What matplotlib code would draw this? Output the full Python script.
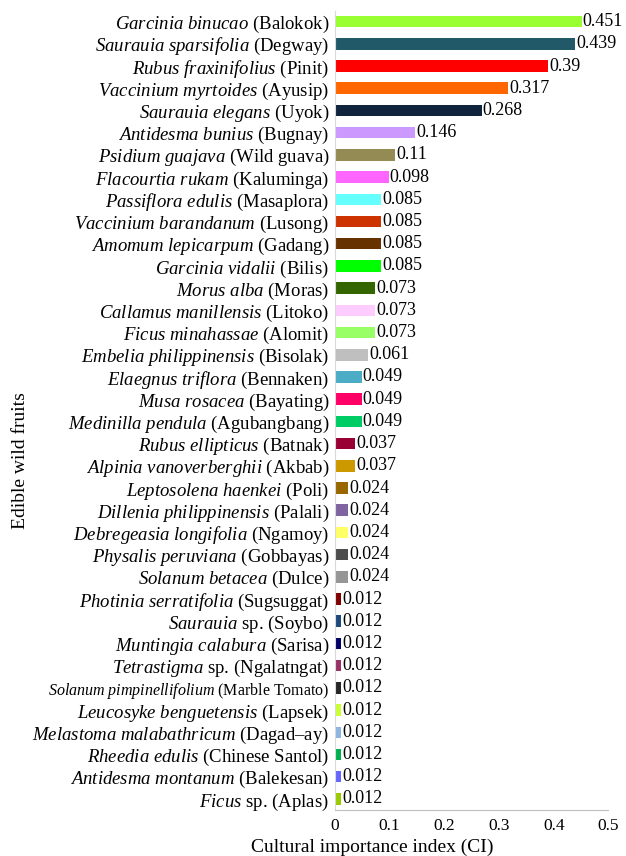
import matplotlib
matplotlib.use("Agg")
import matplotlib.pyplot as plt

plt.rcParams['font.family'] = ['Liberation Serif', 'DejaVu Serif']
plt.rcParams['mathtext.fontset'] = 'custom'
plt.rcParams['mathtext.it'] = 'Liberation Serif:italic'
plt.rcParams['mathtext.rm'] = 'Liberation Serif'

# species (italic part) and local name, top to bottom
species = [
    r"Garcinia\ binucao", r"Saurauia\ sparsifolia", r"Rubus\ fraxinifolius",
    r"Vaccinium\ myrtoides", r"Saurauia\ elegans", r"Antidesma\ bunius",
    r"Psidium\ guajava", r"Flacourtia\ rukam", r"Passiflora\ edulis",
    r"Vaccinium\ barandanum", r"Amomum\ lepicarpum", r"Garcinia\ vidalii",
    r"Morus\ alba", r"Callamus\ manillensis", r"Ficus\ minahassae",
    r"Embelia\ philippinensis", r"Elaegnus\ triflora", r"Musa\ rosacea",
    r"Medinilla\ pendula", r"Rubus\ ellipticus", r"Alpinia\ vanoverberghii",
    r"Leptosolena\ haenkei", r"Dillenia\ philippinensis",
    r"Debregeasia\ longifolia", r"Physalis\ peruviana", r"Solanum\ betacea",
    r"Photinia\ serratifolia", r"Saurauia", r"Muntingia\ calabura",
    r"Tetrastigma", r"Solanum\ pimpinellifolium", r"Leucosyke\ benguetensis",
    r"Melastoma\ malabathricum", r"Rheedia\ edulis", r"Antidesma\ montanum",
    r"Ficus",
]
local = [
    "(Balokok)", "(Degway)", "(Pinit)", "(Ayusip)", "(Uyok)", "(Bugnay)",
    "(Wild guava)", "(Kaluminga)", "(Masaplora)", "(Lusong)", "(Gadang)",
    "(Bilis)", "(Moras)", "(Litoko)", "(Alomit)", "(Bisolak)", "(Bennaken)",
    "(Bayating)", "(Agubangbang)", "(Batnak)", "(Akbab)", "(Poli)",
    "(Palali)", "(Ngamoy)", "(Gobbayas)", "(Dulce)", "(Sugsuggat)",
    "sp. (Soybo)", "(Sarisa)", "sp. (Ngalatngat)", "(Marble Tomato)",
    "(Lapsek)", "(Dagad\u2013ay)", "(Chinese Santol)", "(Balekesan)",
    "sp. (Aplas)",
]
ci = [0.451, 0.439, 0.39, 0.317, 0.268, 0.146, 0.11, 0.098, 0.085, 0.085,
      0.085, 0.085, 0.073, 0.073, 0.073, 0.061, 0.049, 0.049, 0.049, 0.037,
      0.037, 0.024, 0.024, 0.024, 0.024, 0.024, 0.012, 0.012, 0.012, 0.012,
      0.012, 0.012, 0.012, 0.012, 0.012, 0.012]
colors = [
    "#99FF33", "#215968", "#FF0000", "#FF6600", "#10243E", "#CC99FF",
    "#948A54", "#FF66FF", "#66FFFF", "#CC3300", "#663300", "#00FF00",
    "#336600", "#FFCCFF", "#99FF66", "#BFBFBF", "#4BACC6", "#FF0066",
    "#00CC66", "#990033", "#CC9900", "#996600", "#8064A2", "#FFFF66",
    "#4D4D4D", "#969696", "#800000", "#1F497D", "#000066", "#993366",
    "#262626", "#CCFF33", "#8DB4E2", "#00B050", "#6666FF", "#99CC00",
]

fig = plt.figure(figsize=(6.26, 8.56), dpi=100)
ax = fig.add_axes([0.535, 0.0537, 0.437, 0.934])

pos = list(range(len(ci)))
ax.barh(pos, ci, height=0.52, color=colors)
for p, v in zip(pos, ci):
    ax.text(v + 0.002, p, str(v), va='center', ha='left', fontsize=13)

labels = ["$\\mathit{%s}$ %s" % (s, l) for s, l in zip(species, local)]
ax.set_yticks(pos)
ax.set_yticklabels(labels, fontsize=13.5)
for t in ax.get_yticklabels():
    if "Marble" in t.get_text():
        t.set_fontsize(11.5)
ax.set_ylim(len(ci) - 0.5, -0.5)
ax.set_xlim(0, 0.5)
ax.set_xticks([0, 0.1, 0.2, 0.3, 0.4, 0.5])
ax.set_xticklabels(["0", "0.1", "0.2", "0.3", "0.4", "0.5"], fontsize=12.5)
ax.tick_params(axis='both', length=0, pad=4)
ax.tick_params(axis='x', pad=6)

for s in ['top', 'right']:
    ax.spines[s].set_visible(False)
ax.spines['left'].set_color('#d9d9d9')
ax.spines['bottom'].set_color('#bfbfbf')

fig.text(0.032, 1 - 461 / 856, "Edible wild fruits", rotation=90,
         va='center', ha='center', fontsize=14)
fig.text(372 / 626, 1 - 847 / 856, "Cultural importance index (CI)",
         va='center', ha='center', fontsize=14)

fig.savefig("out.png", dpi=100)
